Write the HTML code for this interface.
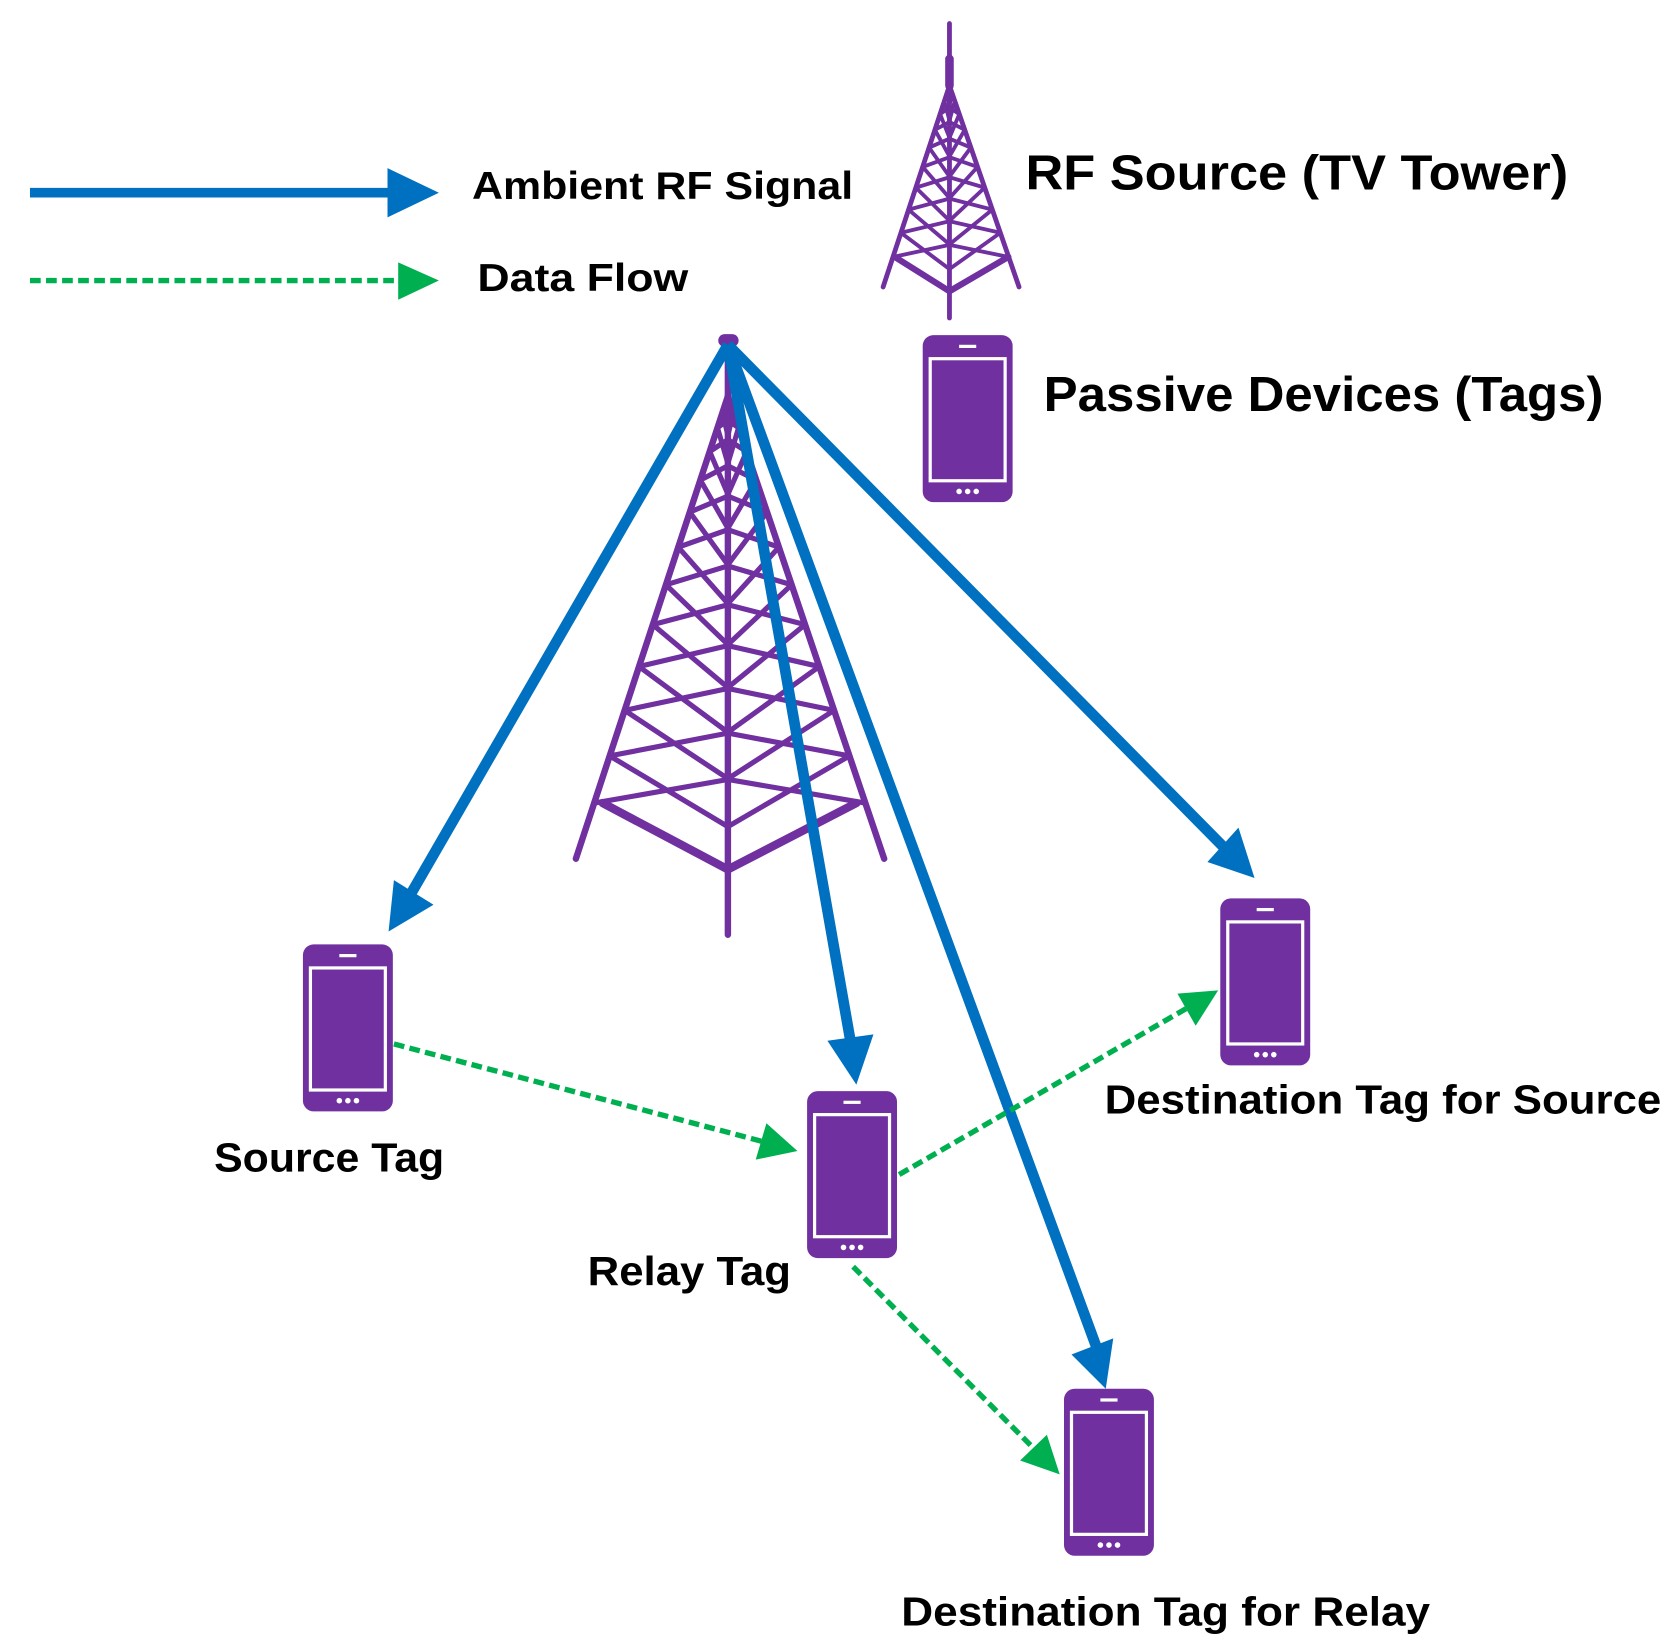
<!DOCTYPE html>
<html><head><meta charset="utf-8">
<style>
html,body{margin:0;padding:0;background:#fff;}
svg{display:block;}
text{font-family:"Liberation Sans",sans-serif;font-weight:bold;fill:#000;}
</style></head>
<body>
<svg id="s" width="1672" height="1650" viewBox="0 0 1562 1541" preserveAspectRatio="none" xmlns="http://www.w3.org/2000/svg">
<defs>
<g id="phone">
<rect x="0" y="0" width="84" height="156" rx="10" fill="#7030A0"/>
<rect x="7" y="22" width="70" height="114" fill="none" stroke="#fff" stroke-width="3"/>
<rect x="34" y="9" width="16" height="3" fill="#fff"/>
<circle cx="34" cy="146" r="2.6" fill="#fff"/><circle cx="42" cy="146" r="2.6" fill="#fff"/><circle cx="50" cy="146" r="2.6" fill="#fff"/>
</g>
</defs>
<g id="towers" stroke="#7030A0" fill="none" stroke-linecap="round"></g>

<!-- legend -->
<line x1="28" y1="180" x2="365" y2="180" stroke="#0070C0" stroke-width="9"/>
<polygon points="362,157 410,180 362,203" fill="#0070C0"/>
<line x1="28" y1="262" x2="375" y2="262" stroke="#00B050" stroke-width="5" stroke-dasharray="10,5"/>
<polygon points="372,245 410,262 372,280" fill="#00B050"/>
<text x="441" y="186" font-size="36" textLength="356" lengthAdjust="spacingAndGlyphs">Ambient RF Signal</text>
<text x="446" y="272" font-size="36" textLength="197" lengthAdjust="spacingAndGlyphs">Data Flow</text>
<text x="958" y="177" font-size="46" textLength="507" lengthAdjust="spacingAndGlyphs">RF Source (TV Tower)</text>
<text x="975" y="384" font-size="46" textLength="523" lengthAdjust="spacingAndGlyphs">Passive Devices (Tags)</text>

<use href="#phone" x="862" y="313"/>
<use href="#phone" x="283" y="882"/>
<use href="#phone" x="754" y="1019"/>
<use href="#phone" x="1140" y="839"/>
<use href="#phone" x="994" y="1297"/>

<!-- blue arrows -->
<g stroke="#0070C0" stroke-width="10" fill="none">
<line x1="680" y1="322" x2="382" y2="838"/>
<line x1="680" y1="322" x2="795" y2="975"/>
<line x1="680" y1="322" x2="1025" y2="1260"/>
<line x1="680" y1="322" x2="1145" y2="793"/>
</g>
<g fill="#0070C0">
<polygon points="363,870 368,822 405,845"/>
<polygon points="800,1013 773,972 816,966"/>
<polygon points="1033,1297 1001,1265 1040,1250"/>
<polygon points="1172,820 1128,805 1157,773"/>
</g>
<!-- green dashed -->
<g stroke="#00B050" stroke-width="5" stroke-dasharray="10,5" fill="none">
<line x1="368" y1="975" x2="712" y2="1066"/>
<line x1="840" y1="1097" x2="1108" y2="942"/>
<line x1="797" y1="1183" x2="965" y2="1352"/>
</g>
<g fill="#00B050">
<polygon points="745,1075 706,1083 716,1049"/>
<polygon points="1138,925 1117,958 1100,928"/>
<polygon points="990,1377 953,1364 978,1340"/>
</g>

<text x="200" y="1094" font-size="38" textLength="215" lengthAdjust="spacingAndGlyphs">Source Tag</text>
<text x="549" y="1200" font-size="38" textLength="190" lengthAdjust="spacingAndGlyphs">Relay Tag</text>
<text x="1032" y="1040" font-size="38" textLength="520" lengthAdjust="spacingAndGlyphs">Destination Tag for Source</text>
<text x="842" y="1518" font-size="38" textLength="494" lengthAdjust="spacingAndGlyphs">Destination Tag for Relay</text>
</svg>
<script>
(function(){
var g=document.getElementById('towers'),ns='http://www.w3.org/2000/svg';
function L(x1,y1,x2,y2,w){var l=document.createElementNS(ns,'line');l.setAttribute('x1',x1);l.setAttribute('y1',y1);l.setAttribute('x2',x2);l.setAttribute('y2',y2);l.setAttribute('stroke-width',w);g.appendChild(l);}
function tower(cx,top,apex,footL,footR,footY,innL,innR,innY,centerBase,bottom,w,n){
  // outer legs
  L(cx,top,cx,bottom,w);
  L(cx,apex,footL,footY,w);L(cx,apex,footR,footY,w);
  L(innL,innY,cx,centerBase,w*1.3);L(innR,innY,cx,centerBase,w*1.3);
  function lx(y){return cx+(footL-cx)*(y-apex)/(footY-apex);}
  function rx(y){return cx+(footR-cx)*(y-apex)/(footY-apex);}
  var ys=[];for(var i=0;i<=n;i++){var t=i/n;ys.push(apex+(innY-apex)*(0.04+0.96*Math.pow(t,1.35)));}
  for(var i=0;i<n;i++){var a=ys[i],b=ys[i+1];
    L(lx(a),a,cx,b+(b-a)*0.5,w*0.8);L(cx,a+(b-a)*0.5,lx(b),b,w*0.8);
    L(rx(a),a,cx,b+(b-a)*0.5,w*0.8);L(cx,a+(b-a)*0.5,rx(b),b,w*0.8);
  }
}
tower(680,318,370,538,826,802,563,800,750,812,873,6,11);
tower(887,22,80,825,952,268,836,942,240,272,297,4.5,9);
L(677,318,684,318,12);L(887,55,887,80,8);
})();
</script>
</body></html>
